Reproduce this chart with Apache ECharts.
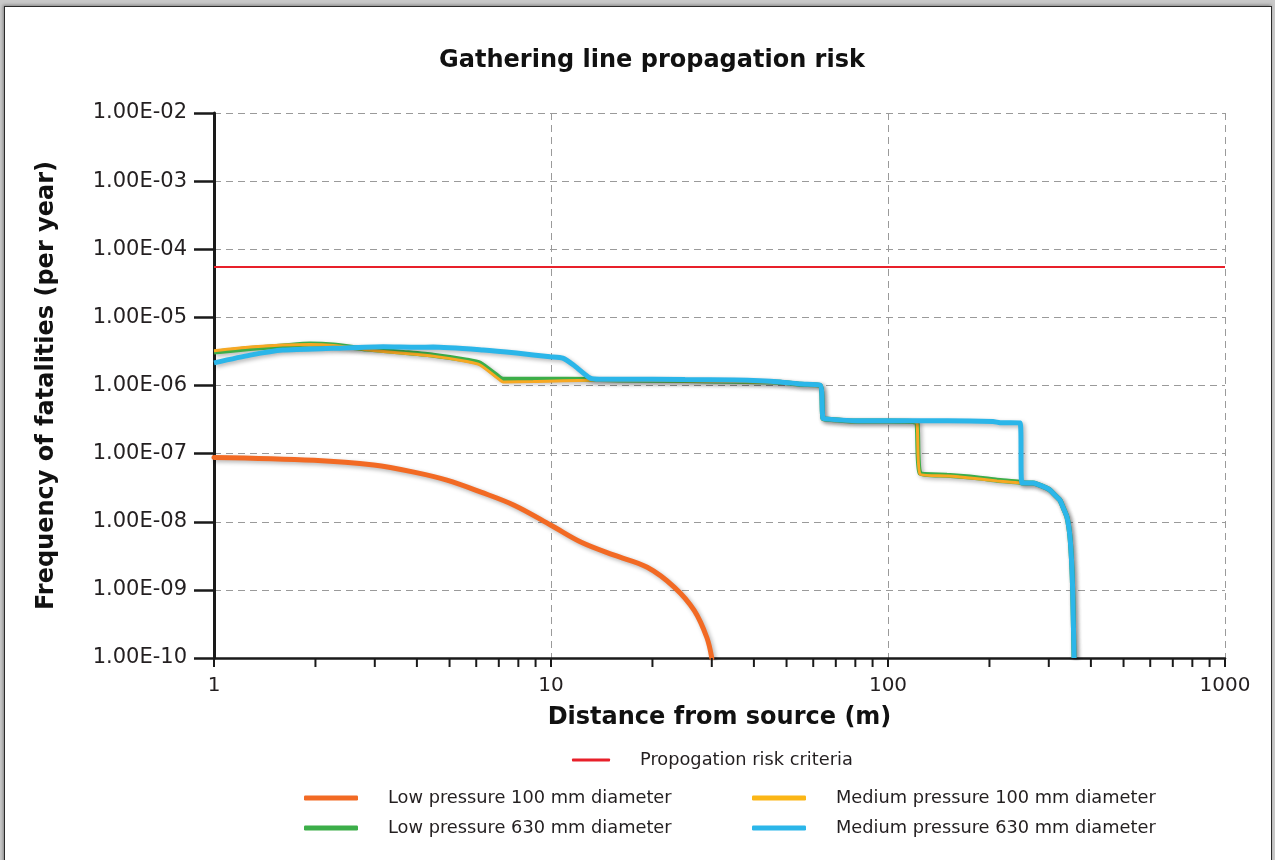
<!DOCTYPE html>
<html>
<head>
<meta charset="utf-8">
<title>Gathering line propagation risk</title>
<script src="https://cdn.jsdelivr.net/npm/echarts@6/dist/echarts.min.js"></script>
<style>
  html, body { margin: 0; padding: 0; width: 1275px; height: 860px; overflow: hidden; background: #c9c9c9; }
  #frame {
    position: absolute; left: 4px; top: 6px; width: 1266px; height: 900px;
    background: #ffffff; border: 1.5px solid #2b2b2b;
    box-shadow: -1px -1px 3px rgba(0,0,0,0.35);
  }
  #chart { position: absolute; left: 0; top: 0; width: 1275px; height: 860px; }
</style>
</head>
<body>
<div id="frame"></div>
<div id="chart"></div>
<script>
// Axis tick labels
const xTickLabels = ['1', '10', '100', '1000'];
const yTickLabels = ['1.00E-10', '1.00E-09', '1.00E-08', '1.00E-07', '1.00E-06',
                     '1.00E-05', '1.00E-04', '1.00E-03', '1.00E-02'];
const minorTickValues = [2, 3, 4, 5, 6, 7, 8, 9, 20, 30, 40, 50, 60, 70, 80, 90,
                         200, 300, 400, 500, 600, 700, 800, 900];

// Propagation risk criteria (horizontal threshold)
const criteriaDist = [1, 1000];
const criteriaFreq = [5.5e-5, 5.5e-5];

// Low pressure 100 mm diameter
const lowP100Dist = [1, 1.98, 2.98, 3.92, 4.91, 6.2, 7.77, 10, 12.3, 15.4, 19.3, 23.2, 26.6, 29.0, 30.0];
const lowP100Freq = [8.8e-8, 8.0e-8, 6.8e-8, 5.35e-8, 4.08e-8, 2.72e-8, 1.75e-8, 8.9e-9,
                     5.0e-9, 3.23e-9, 2.15e-9, 1.1e-9, 5.0e-10, 2.0e-10, 1.0e-10];

// Low pressure 630 mm diameter
const lowP630Dist = [1, 1.28, 1.6, 1.93, 2.26, 2.84, 3.57, 4.47, 5.63, 6.16, 7.06, 7.21, 8.86,
                     13.95, 16.0, 25, 35, 47.9, 55.0, 62.9, 64.1, 66.4, 80.9, 99.3, 118.6,
                     121.9, 124.5, 149.6, 163.6, 187.5, 210.6, 246.4, 249.9,
                     269.2, 276.8, 296.5, 302.6, 317, 323.9, 330.5, 339.7, 346.8, 351.6, 353.9, 356.5];
const lowP630Freq = [3.09e-6, 3.5e-6, 3.8e-6, 4.06e-6, 3.92e-6, 3.43e-6, 3.09e-6, 2.79e-6, 2.36e-6,
                     2.13e-6, 1.29e-6, 1.24e-6, 1.24e-6,
                     1.22e-6, 1.2e-6, 1.18e-6, 1.15e-6, 1.12e-6, 1.04e-6, 1.0e-6, 3.3e-7, 3.2e-7,
                     3.0e-7, 3.0e-7, 2.95e-7,
                     2.9e-7, 5.18e-8, 4.83e-8, 4.67e-8, 4.37e-8, 4.08e-8, 3.81e-8, 3.69e-8,
                     3.69e-8, 3.57e-8, 3.11e-8, 2.91e-8, 2.30e-8, 2.07e-8, 1.64e-8, 1.17e-8,
                     5.94e-9, 1.95e-9, 6.4e-10, 1.0e-10];

// Medium pressure 100 mm diameter
const medP100Dist = [1, 1.28, 1.6, 1.93, 2.26, 2.84, 3.57, 4.47, 5.63, 6.16, 7.06, 7.21, 8.86,
                     13.95, 16.0, 25, 35, 47.9, 55.0, 62.9, 64.1, 66.4, 80.9, 99.3, 118.6,
                     121.9, 124.5, 149.6, 163.6, 187.5, 210.6, 246.4, 249.9,
                     269.2, 276.8, 296.5, 302.6, 317, 323.9, 330.5, 339.7, 346.8, 351.6, 353.9, 356.5];
const medP100Freq = [3.23e-6, 3.66e-6, 3.92e-6, 4.0e-6, 3.85e-6, 3.35e-6, 3.0e-6, 2.7e-6, 2.25e-6,
                     2.0e-6, 1.2e-6, 1.13e-6, 1.14e-6,
                     1.2e-6, 1.19e-6, 1.17e-6, 1.14e-6, 1.11e-6, 1.03e-6, 0.99e-6, 3.28e-7, 3.18e-7,
                     2.98e-7, 2.98e-7, 2.93e-7,
                     2.88e-7, 5.0e-8, 4.7e-8, 4.55e-8, 4.25e-8, 3.98e-8, 3.72e-8, 3.62e-8,
                     3.69e-8, 3.57e-8, 3.11e-8, 2.91e-8, 2.30e-8, 2.07e-8, 1.64e-8, 1.17e-8,
                     5.94e-9, 1.95e-9, 6.4e-10, 1.0e-10];

// Medium pressure 630 mm diameter
const medP630Dist = [1, 1.28, 1.6, 2.26, 3.18, 4.0, 4.47, 6.29, 7.9, 9.94, 10.84, 11.66, 13.05,
                     13.95, 16.0, 25, 35, 47.9, 55.0, 62.9, 64.1, 66.4, 80.9, 99.3, 118.6,
                     150, 205, 215, 246.4, 249.9,
                     269.2, 276.8, 296.5, 302.6, 317, 323.9, 330.5, 339.7, 346.8, 351.6, 353.9, 356.5];
const medP630Freq = [2.15e-6, 2.79e-6, 3.31e-6, 3.51e-6, 3.70e-6, 3.63e-6, 3.66e-6, 3.31e-6, 2.99e-6,
                     2.64e-6, 2.52e-6, 2.0e-6, 1.29e-6,
                     1.24e-6, 1.24e-6, 1.22e-6, 1.2e-6, 1.13e-6, 1.05e-6, 1.01e-6, 3.32e-7, 3.21e-7,
                     3.03e-7, 3.03e-7, 3.03e-7,
                     3.03e-7, 2.95e-7, 2.85e-7, 2.83e-7, 3.69e-8,
                     3.69e-8, 3.57e-8, 3.11e-8, 2.91e-8, 2.30e-8, 2.07e-8, 1.64e-8, 1.17e-8,
                     5.94e-9, 1.95e-9, 6.4e-10, 1.0e-10];

const xMin = 1, xMax = 1000, yMin = 1e-10, yMax = 1e-2;

const pairs = (xs, ys) => xs.map((x, i) => [x, ys[i]]);

const FONT = '"DejaVu Sans", sans-serif';
const TEXT = '#231f20';
const shadow = { shadowColor: 'rgba(0,0,0,0.3)', shadowBlur: 4, shadowOffsetX: 2, shadowOffsetY: 2 };

const chart = echarts.init(document.getElementById('chart'), null, { renderer: 'canvas' });

function legendAt(name, left, top, width, height) {
  return {
    data: [name], left: left, top: top, orient: 'horizontal',
    icon: 'roundRect', itemWidth: width, itemHeight: height,
    selectedMode: false, padding: 0,
    textStyle: { fontFamily: FONT, fontSize: 17.8, color: TEXT, padding: [0, 0, 0, 25] }
  };
}

chart.setOption({
  animation: false,
  title: {
    text: 'Gathering line propagation risk',
    left: 647, textAlign: 'center', top: 44,
    textStyle: { fontFamily: FONT, fontSize: 24, fontWeight: 'bold', color: '#111111' }
  },
  legend: [
    legendAt('Propogation risk criteria', 572, 751, 38, 3),
    legendAt('Low pressure 100 mm diameter', 304, 789, 54, 5),
    legendAt('Medium pressure 100 mm diameter', 752, 789, 54, 5),
    legendAt('Low pressure 630 mm diameter', 304, 819, 54, 5),
    legendAt('Medium pressure 630 mm diameter', 752, 819, 54, 5)
  ],
  grid: { left: 214, right: 50, top: 113, bottom: 202, containLabel: false },
  xAxis: {
    type: 'log', logBase: 10, min: xMin, max: xMax,
    name: 'Distance from source (m)', nameLocation: 'middle', nameGap: 48,
    nameTextStyle: { fontFamily: FONT, fontSize: 24, fontWeight: 'bold', color: '#111111' },
    axisLine: { show: true, onZero: false, lineStyle: { color: '#1a1a1a', width: 2.5 } },
    axisTick: { show: true, length: 9, inside: false, lineStyle: { color: '#1a1a1a', width: 2 } },
    axisLabel: {
      fontFamily: FONT, fontSize: 20, color: TEXT, margin: 18,
      formatter: v => xTickLabels[Math.round(Math.log10(v))]
    },
    splitLine: { show: true, lineStyle: { color: '#9a9a9a', width: 1, type: [7, 5] } }
  },
  yAxis: {
    type: 'log', logBase: 10, min: yMin, max: yMax,
    name: 'Frequency of fatalities (per year)', nameLocation: 'middle', nameGap: 155,
    nameTextStyle: { fontFamily: FONT, fontSize: 24, fontWeight: 'bold', color: '#111111' },
    axisLine: { show: true, onZero: false, lineStyle: { color: '#1a1a1a', width: 3 } },
    axisTick: { show: true, length: 20, lineStyle: { color: '#1a1a1a', width: 2.5 } },
    axisLabel: {
      fontFamily: FONT, fontSize: 21, color: TEXT, margin: 27,
      formatter: v => yTickLabels[Math.round(Math.log10(v)) + 10]
    },
    splitLine: { show: true, lineStyle: { color: '#9a9a9a', width: 1, type: [7, 5] } }
  },
  series: [
    {
      // minor ticks at 2..9 of each decade on the distance axis
      type: 'custom', silent: true, clip: false, z: 5,
      data: minorTickValues.map(v => [v, yMin]),
      renderItem: (params, api) => {
        const p = api.coord([api.value(0), api.value(1)]);
        return {
          type: 'line',
          shape: { x1: p[0], y1: p[1], x2: p[0], y2: p[1] + 9 },
          style: { stroke: '#1a1a1a', lineWidth: 2 }
        };
      }
    },
    {
      name: 'Propogation risk criteria', type: 'line', showSymbol: false, symbol: 'none',
      data: pairs(criteriaDist, criteriaFreq), color: '#e8202a',
      lineStyle: { color: '#e8202a', width: 2 }, z: 3
    },
    {
      name: 'Low pressure 100 mm diameter', type: 'line', showSymbol: false, symbol: 'none',
      smooth: 0.35, data: pairs(lowP100Dist, lowP100Freq), color: '#f26a24',
      lineStyle: Object.assign({ color: '#f26a24', width: 5, cap: 'round' }, shadow), z: 4
    },
    {
      name: 'Low pressure 630 mm diameter', type: 'line', showSymbol: false, symbol: 'none',
      smooth: 0.2, data: pairs(lowP630Dist, lowP630Freq), color: '#3cae49',
      lineStyle: Object.assign({ color: '#3cae49', width: 5 }, shadow), z: 4
    },
    {
      name: 'Medium pressure 100 mm diameter', type: 'line', showSymbol: false, symbol: 'none',
      smooth: 0.2, data: pairs(medP100Dist, medP100Freq), color: '#fbb616',
      lineStyle: { color: '#f7a823', width: 3 }, z: 4
    },
    {
      name: 'Medium pressure 630 mm diameter', type: 'line', showSymbol: false, symbol: 'none',
      smooth: 0.2, data: pairs(medP630Dist, medP630Freq), color: '#2bb6e9',
      lineStyle: Object.assign({ color: '#2bb6e9', width: 5 }, shadow), z: 4
    }
  ]
});
</script>
</body>
</html>
